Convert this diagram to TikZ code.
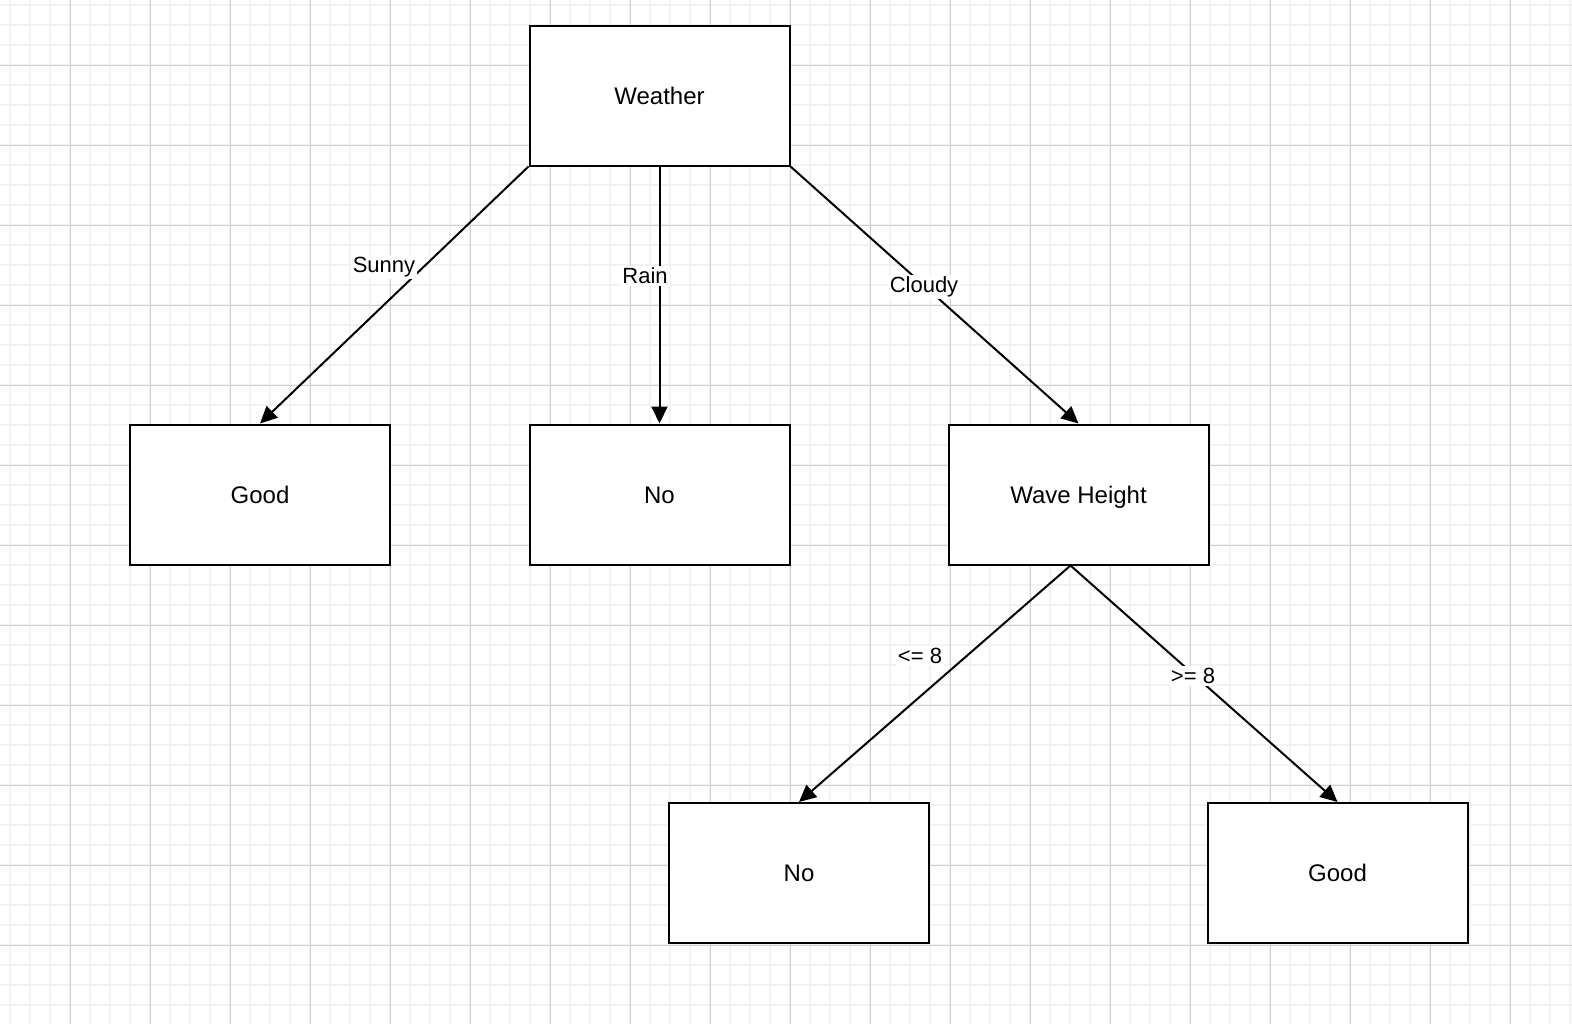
\documentclass[tikz,border=0pt]{standalone}
\usepackage{fontspec}
\setmainfont{Liberation Sans}
\usetikzlibrary{arrows.meta}
\definecolor{minorgrid}{HTML}{F2F2F2}
\definecolor{majorgrid}{HTML}{D0D0D0}
\begin{document}
\begin{tikzpicture}[x=0.5pt,y=-0.5pt,
 box/.style={draw, line width=1pt, fill=white, minimum width=130pt, minimum height=70pt, inner sep=0pt, text height=8.6pt, text depth=0pt, font=\fontsize{12}{14}\selectfont},
 edge/.style={line width=1pt, -{Triangle[length=8.5pt,width=8pt]}},
 lbl/.style={fill=white, inner sep=1pt, font=\fontsize{11}{13}\selectfont}]
\useasboundingbox (0,0) rectangle (1572,1024);
\fill[white] (0,0) rectangle (1572,1024);
\foreach \x in {10,30,...,1570} \draw[minorgrid, line width=1pt] (\x,0) -- (\x,1024);
\foreach \y in {5,25,...,1024} \draw[minorgrid, line width=1pt] (0,\y) -- (1572,\y);
\foreach \x in {70,150,...,1570} \draw[majorgrid, line width=0.5pt] (\x,0) -- (\x,1024);
\foreach \y in {65,145,...,1024} \draw[majorgrid, line width=0.5pt] (0,\y) -- (1572,\y);

\node[box] (w) at (659.5,95.5) {Weather};
\node[box] (good1) at (260,494.5) {Good};
\node[box] (no1) at (659.5,494.5) {No};
\node[box] (wave) at (1078.5,494.5) {Wave Height};
\node[box] (no2) at (799,873) {No};
\node[box] (good2) at (1337.5,873) {Good};

\draw[edge] (w.south west) -- (good1.north);
\draw[edge] (w.south) -- (no1.north);
\draw[edge] (w.south east) -- (wave.north);
\draw[edge] ([xshift=-4pt]wave.south) -- (no2.north);
\draw[edge] ([xshift=-4pt]wave.south) -- (good2.north);

\node[lbl] (l1) at (384,267) {Sunny};
\node[lbl] (l2) at (645,276) {Rain};
\node[lbl] (l3) at (924,287) {Cloudy};
\node[lbl] (l4) at (920,656) {<= 8};
\node[lbl] (l5) at (1193,676) {>= 8};
\end{tikzpicture}
\end{document}
